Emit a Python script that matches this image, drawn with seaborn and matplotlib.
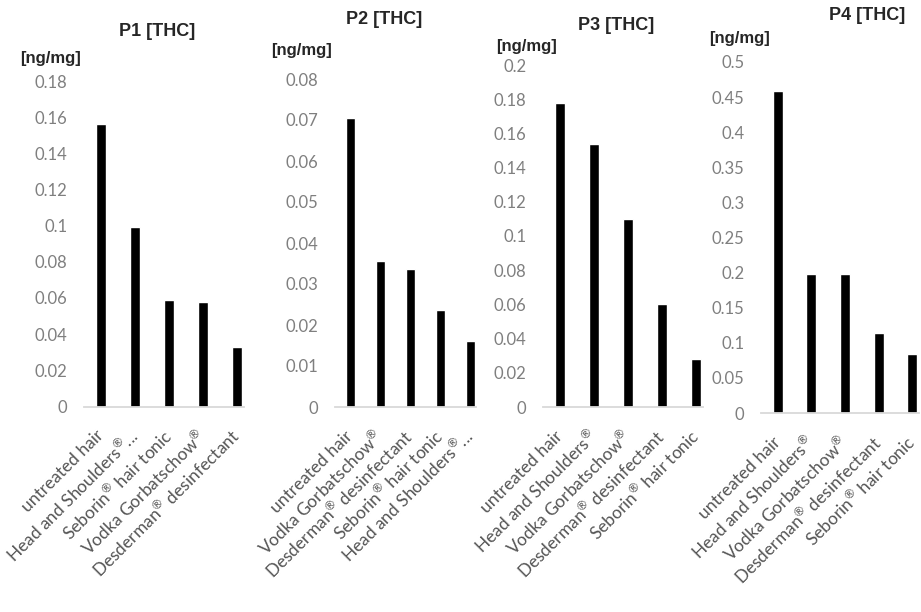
import numpy as np
import matplotlib
matplotlib.use("Agg")
import matplotlib.pyplot as plt
import seaborn as sns

# data
R = "$^{®}$"
p1_cats = ["untreated hair", "Head and Shoulders" + R + "...", "Seborin" + R + " hair tonic",
           "Vodka Gorbatschow" + R, "Desderman" + R + " desinfectant"]
p1_vals = [0.156, 0.099, 0.059, 0.058, 0.033]

p2_cats = ["untreated hair", "Vodka Gorbatschow" + R, "Desderman" + R + " desinfectant",
           "Seborin" + R + " hair tonic", "Head and Shoulders" + R + "..."]
p2_vals = [0.0704, 0.0355, 0.0337, 0.0237, 0.0161]

p3_cats = ["untreated hair", "Head and Shoulders" + R, "Vodka Gorbatschow" + R,
           "Desderman" + R + " desinfectant", "Seborin" + R + " hair tonic"]
p3_vals = [0.1775, 0.1537, 0.110, 0.060, 0.028]

p4_cats = ["untreated hair", "Head and Shoulders" + R, "Vodka Gorbatschow" + R,
           "Desderman" + R + " desinfectant", "Seborin" + R + " hair tonic"]
p4_vals = [0.458, 0.198, 0.198, 0.114, 0.084]

titles = ["P1 [THC]", "P2 [THC]", "P3 [THC]", "P4 [THC]"]
y_max = [0.18, 0.08, 0.2, 0.5]
y_step = [0.02, 0.01, 0.02, 0.05]

sns.set_style("white")
plt.rcParams["font.family"] = ["Lato", "DejaVu Sans"]
# keep the superscript ® in the same face as the labels
plt.rcParams["mathtext.fontset"] = "custom"
plt.rcParams["mathtext.rm"] = "Lato"
plt.rcParams["mathtext.it"] = "Lato"
plt.rcParams["mathtext.bf"] = "Lato:bold"

W, H = 921, 612
fig = plt.figure(figsize=(W / 100, H / 100), dpi=100)

def px_rect(l, r, t, b):
    return [l / W, 1 - b / H, (r - l) / W, (b - t) / H]

# plot areas in pixels: left, right, top, bottom
boxes = [(84, 254, 81, 406.5), (335, 485, 79, 407),
         (543, 713, 65, 407), (761, 929, 62, 413)]
# title and unit label centres in pixels
title_pos = [(157, 31), (384, 20), (616, 25), (867, 16)]
unit_pos = [(50, 59), (302, 50), (526, 47), (739, 39)]

panels = [(p1_cats, p1_vals), (p2_cats, p2_vals), (p3_cats, p3_vals), (p4_cats, p4_vals)]

for i, (cats, vals) in enumerate(panels):
    ax = fig.add_axes(px_rect(*boxes[i]))
    sns.barplot(x=cats, y=vals, color="black", saturation=1, width=0.3, ax=ax)
    ax.set_xlim(-0.5, 4.5)
    ax.set_ylim(0, y_max[i])
    ticks = np.round(np.arange(0, y_max[i] + y_step[i] / 2, y_step[i]), 3)
    ax.set_yticks(ticks)
    ax.set_yticklabels([f"{t:g}" for t in ticks])
    for s in ["top", "right", "left"]:
        ax.spines[s].set_visible(False)
    ax.spines["bottom"].set_color("#d9d9d9")
    ax.spines["bottom"].set_linewidth(1.3)
    ax.spines["bottom"].set_bounds(-0.5, 4.2)
    ax.tick_params(axis="y", length=0, pad=12, labelsize=12, labelcolor="#7f7f7f")
    ax.tick_params(axis="x", length=0, pad=19, labelsize=12.5, labelcolor="#555555")
    plt.setp(ax.get_xticklabels(), rotation=45, ha="right", va="center",
             rotation_mode="anchor")
    ax.set_xlabel("")
    ax.set_ylabel("")
    fig.text(title_pos[i][0] / W, 1 - title_pos[i][1] / H, titles[i],
             family="Liberation Sans", weight="bold", fontsize=13,
             ha="center", va="center")
    fig.text(unit_pos[i][0] / W, 1 - unit_pos[i][1] / H, "[ng/mg]",
             family="Liberation Sans", weight="bold", fontsize=12,
             ha="center", va="center")

fig.savefig("out.png", dpi=100)
